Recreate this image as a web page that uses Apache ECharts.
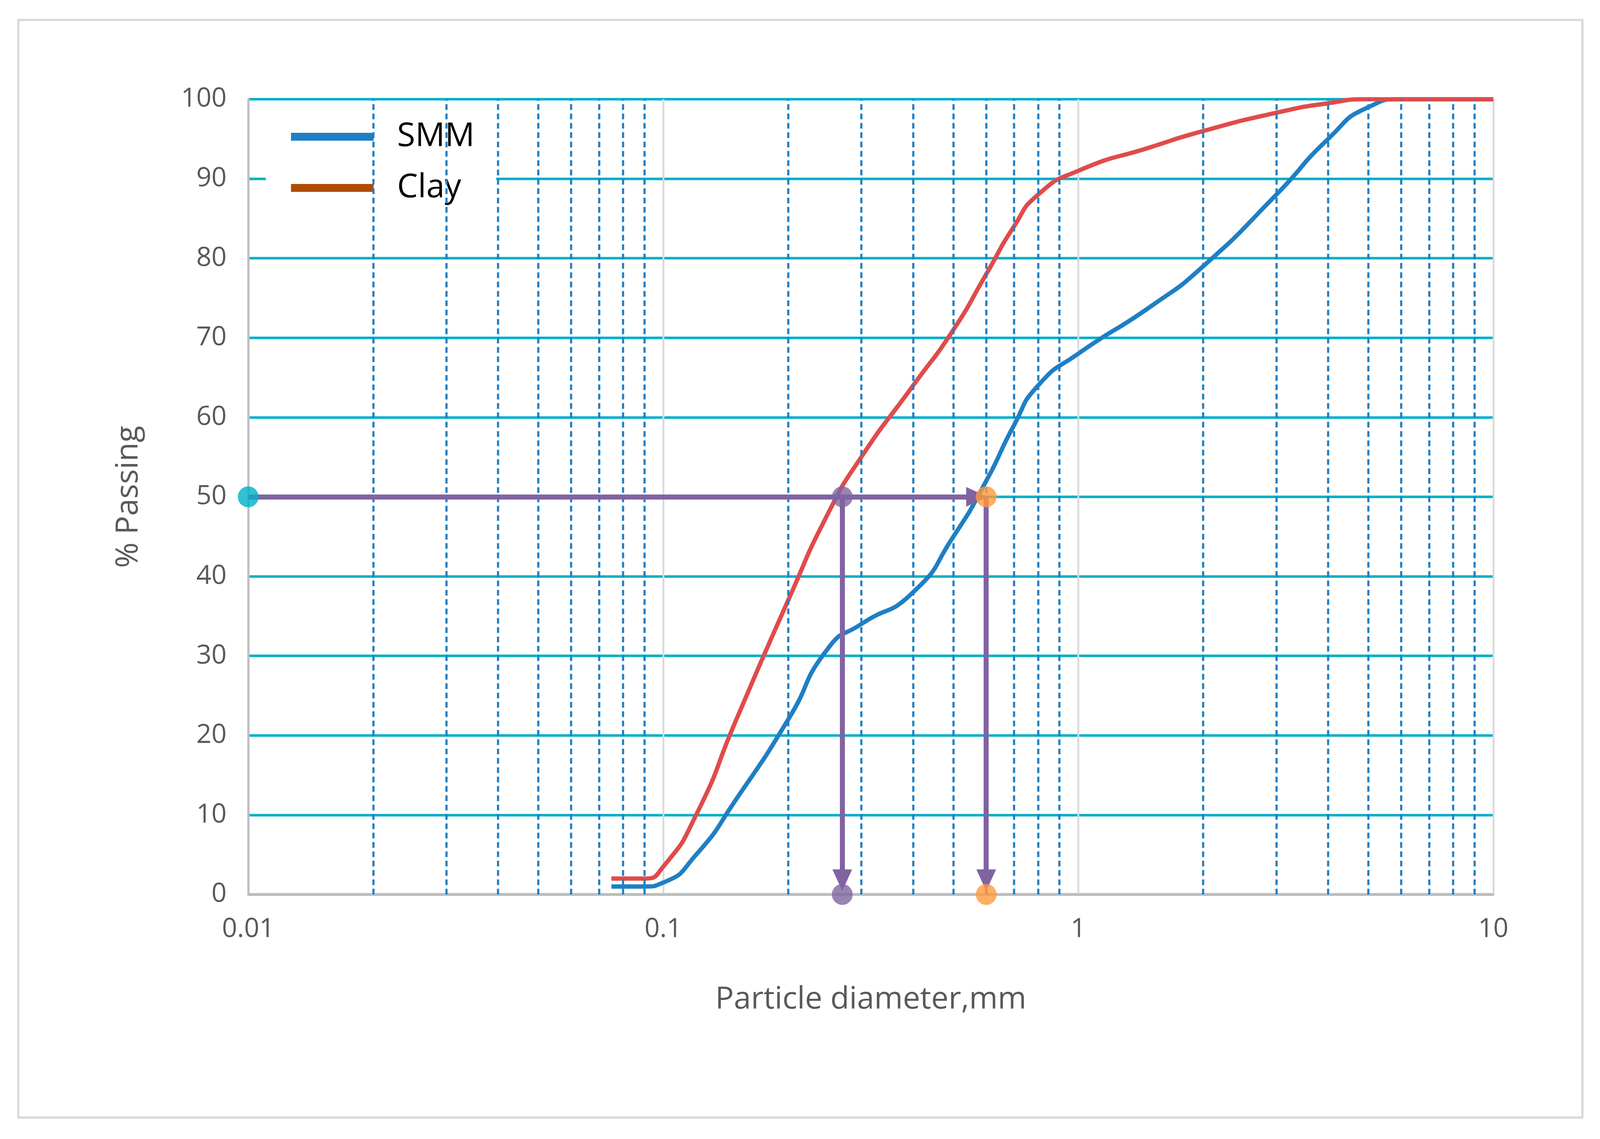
<!DOCTYPE html>
<html>
<head>
<meta charset="utf-8">
<script src="https://cdn.jsdelivr.net/npm/echarts@6/dist/echarts.min.js"></script>
<style>
  html, body { margin: 0; padding: 0; background: #fff; overflow: hidden; }
  #chart { width: 100vw; height: 100vh; }
</style>
</head>
<body>
<div id="chart"></div>
<script>
// Grain-size distribution
const smmX = [0.075, 0.09, 0.1, 0.12, 0.15, 0.2, 0.25, 0.3, 0.4, 0.5, 0.6, 0.7, 0.8, 1, 1.5, 2, 3, 4, 5, 6, 10];
const smmY = [1, 1, 1.5, 5, 12, 22, 31, 34, 38, 45, 52, 59, 64, 68, 74, 79, 88, 95, 99, 100, 100];
const clayX = [0.075, 0.09, 0.1, 0.12, 0.15, 0.2, 0.25, 0.3, 0.4, 0.5, 0.6, 0.7, 0.8, 1, 1.5, 2, 3, 4, 5, 10];
const clayY = [2, 2, 3.5, 10, 22, 37, 48, 55, 64, 71, 78, 84, 88, 91, 94, 96, 98.3, 99.5, 100, 100];
const minorX = [0.02, 0.03, 0.04, 0.05, 0.06, 0.07, 0.08, 0.09,
                0.2, 0.3, 0.4, 0.5, 0.6, 0.7, 0.8, 0.9,
                2, 3, 4, 5, 6, 7, 8, 9];
const d50Clay = 0.27, d50Smm = 0.6;

const PURPLE = '#8064a2', ORANGE = '#ff9a3c', CYAN = '#00b0c8';
const FONT = '"Open Sans", "Liberation Sans", sans-serif';

const el = document.getElementById('chart');
const chart = echarts.init(el);
const W = chart.getWidth(), H = chart.getHeight();
const k = W / 4454, kh = H / 2916;
const s = v => v * k;

chart.setOption({
  animation: false,
  backgroundColor: '#fff',
  textStyle: { fontFamily: FONT },
  graphic: [{
    type: 'rect', z: -1,
    shape: { x: 51 * k, y: 51 * kh, width: 4354 * k, height: 2810 * kh },
    style: { fill: '#fff', stroke: '#d9d9d9', lineWidth: s(6) }
  }],
  grid: { left: 691 * k, right: 297 * k, top: 254 * kh, bottom: 626 * kh },
  legend: {
    orient: 'vertical', left: 740 * k, top: 280 * kh,
    backgroundColor: '#fff', padding: [s(30), s(60), s(30), s(70)],
    itemWidth: s(230), itemHeight: s(22), itemGap: s(50),
    icon: 'rect',
    textStyle: { fontSize: s(92), color: '#000', fontFamily: FONT, padding: [0, 0, 0, s(60)] },
    data: ['SMM', 'Clay']
  },
  xAxis: {
    type: 'log', logBase: 10, min: 0.01, max: 10,
    name: 'Particle diameter,mm', nameLocation: 'middle', nameGap: s(250),
    nameTextStyle: { fontSize: s(86), color: '#595959' },
    axisLine: { lineStyle: { color: '#bfbfbf', width: s(6) } },
    axisTick: { show: false },
    axisLabel: { fontSize: s(74), color: '#595959', margin: s(60), formatter: v => String(v) },
    splitLine: { show: true, lineStyle: { color: '#d9d9d9', width: s(5) } }
  },
  yAxis: {
    type: 'value', min: 0, max: 100, interval: 10,
    name: '% Passing', nameLocation: 'middle', nameGap: s(290),
    nameTextStyle: { fontSize: s(86), color: '#595959' },
    axisLine: { show: true, lineStyle: { color: '#bfbfbf', width: s(6) } },
    axisTick: { show: false },
    axisLabel: { fontSize: s(74), color: '#595959', margin: s(60) },
    splitLine: { lineStyle: { color: CYAN, width: s(7) } }
  },
  series: [
    {
      name: 'minor', type: 'line', data: [], silent: true,
      markLine: {
        silent: true, symbol: 'none', label: { show: false },
        lineStyle: { color: '#1f7fc4', type: [s(16), s(10)], width: s(6) },
        data: minorX.map(x => ({ xAxis: x }))
      }
    },
    {
      name: 'SMM', type: 'line', smooth: 0.6, showSymbol: false,
      data: smmX.map((x, i) => [x, smmY[i]]),
      itemStyle: { color: '#1f7fc4' },
      lineStyle: { color: '#1f7fc4', width: s(12) }, z: 3
    },
    {
      name: 'Clay', type: 'line', smooth: 0.6, showSymbol: false,
      data: clayX.map((x, i) => [x, clayY[i]]),
      itemStyle: { color: '#b04a00' },
      lineStyle: { color: '#e04b4b', width: s(12) }, z: 3
    },
    {
      name: 'arrows', type: 'line', data: [], silent: true, z: 4,
      markLine: {
        silent: true, symbol: ['none', 'triangle'], symbolSize: [s(55), s(60)],
        label: { show: false },
        lineStyle: { color: PURPLE, type: 'solid', width: s(14) },
        data: [
          [{ coord: [0.01, 50] }, { coord: [0.57, 50] }],
          [{ coord: [d50Clay, 50] }, { coord: [d50Clay, 1.8] }],
          [{ coord: [d50Smm, 50] }, { coord: [d50Smm, 1.8] }]
        ]
      }
    },
    {
      name: 'points', type: 'scatter', symbolSize: s(58), z: 5,
      data: [
        { value: [0.01, 50], itemStyle: { color: CYAN } },
        { value: [d50Clay, 50], itemStyle: { color: PURPLE } },
        { value: [d50Clay, 0], itemStyle: { color: PURPLE } },
        { value: [d50Smm, 50], itemStyle: { color: ORANGE } },
        { value: [d50Smm, 0], itemStyle: { color: ORANGE } }
      ]
    }
  ]
});
</script>
</body>
</html>
